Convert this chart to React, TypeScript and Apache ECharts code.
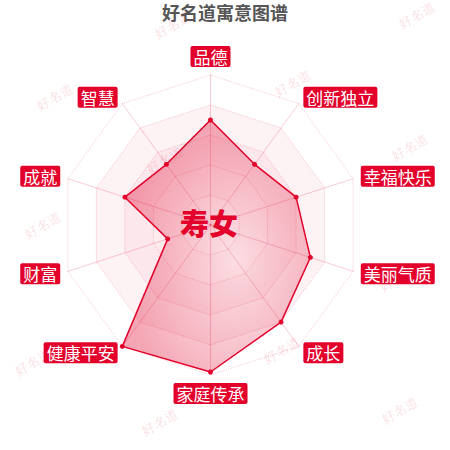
import { FC, useEffect, useRef } from "react";
import * as echarts from "echarts";

// 雷达图数据（逆时针顺序，从顶部开始）
const indicatorNames = ["品德", "智慧", "成就", "财富", "健康平安", "家庭传承", "成长", "美丽气质", "幸福快乐", "创新独立"];
const scores = [70, 50, 60, 30, 100, 98, 80, 70, 60, 50];
const maxScore = 100;
const titleText = "好名道寓意图谱";
const centerName = "寿女";
const watermarkText = "好名道";

// 水印位置
const watermarkSpots: [number, number][] = [
  [173, 25], [417, 15], [55, 97], [293, 83], [410, 147], [165, 160],
  [43, 225], [398, 278], [282, 350], [33, 362], [160, 422], [400, 410],
];

const RED = "#e3002b";

const App: FC = () => {
  const chartRef = useRef<HTMLDivElement>(null);

  useEffect(() => {
    if (!chartRef.current) return;
    const chart = echarts.init(chartRef.current, null, { renderer: "svg" });

    const option = {
      animation: false,
      backgroundColor: "#fff",
      textStyle: { fontFamily: "Noto Sans CJK SC" },
      title: {
        text: titleText,
        left: "center",
        top: 2,
        padding: 0,
        textStyle: { fontSize: 18, lineHeight: 20, fontWeight: "bold", color: "#555", fontFamily: "Noto Sans CJK SC" },
      },
      graphic: [
        ...watermarkSpots.map(([x, y]) => ({
          type: "text",
          x,
          y,
          rotation: Math.PI / 6,
          silent: true,
          z: 100,
          style: {
            text: watermarkText,
            fill: "rgba(224,0,42,0.15)",
            font: "13px serif",
            textAlign: "center",
            textVerticalAlign: "middle",
          },
        })),
        {
          type: "text",
          x: 209,
          y: 222,
          z: 50,
          style: {
            text: centerName,
            fill: RED,
            font: "900 29px 'Noto Sans CJK SC'",
            textAlign: "center",
            textVerticalAlign: "middle",
          },
        },
      ],
      radar: {
        center: [210.5, 225],
        radius: 150,
        splitNumber: 5,
        nameGap: 8,
        indicator: indicatorNames.map((name) => ({ name, max: maxScore })),
        axisName: {
          color: "#fff",
          backgroundColor: RED,
          padding: [2, 3],
          borderRadius: 2,
          fontSize: 17,
          lineHeight: 17,
          fontFamily: "Noto Sans CJK SC",
        },
        axisLine: { lineStyle: { color: "rgba(224,0,42,0.2)", width: 1 } },
        splitLine: { lineStyle: { color: "rgba(224,0,42,0.22)", type: "dotted", width: 1 } },
        splitArea: {
          show: true,
          areaStyle: {
            color: [
              "rgba(224,0,42,0.06)",
              "rgba(224,0,42,0.08)",
              "rgba(224,0,42,0.09)",
              "rgba(224,0,42,0.05)",
              "rgba(255,255,255,0)",
            ],
          },
        },
      },
      series: [
        {
          type: "radar",
          symbol: "circle",
          symbolSize: 5,
          lineStyle: { color: RED, width: 1.5 },
          itemStyle: { color: RED },
          areaStyle: {
            color: {
              type: "radial",
              x: 0.6,
              y: 0.55,
              r: 0.6,
              colorStops: [
                { offset: 0, color: "rgba(224,0,42,0.08)" },
                { offset: 1, color: "rgba(224,0,42,0.5)" },
              ],
            },
          },
          data: [{ value: scores, name: centerName }],
        },
      ],
    };

    chart.setOption(option);
    return () => {
      chart.dispose();
    };
  }, []);

  return (
    <div
      ref={chartRef}
      style={{ position: "absolute", left: 0, top: 0, width: 450, height: 450 }}
    />
  );
};

export default App;
